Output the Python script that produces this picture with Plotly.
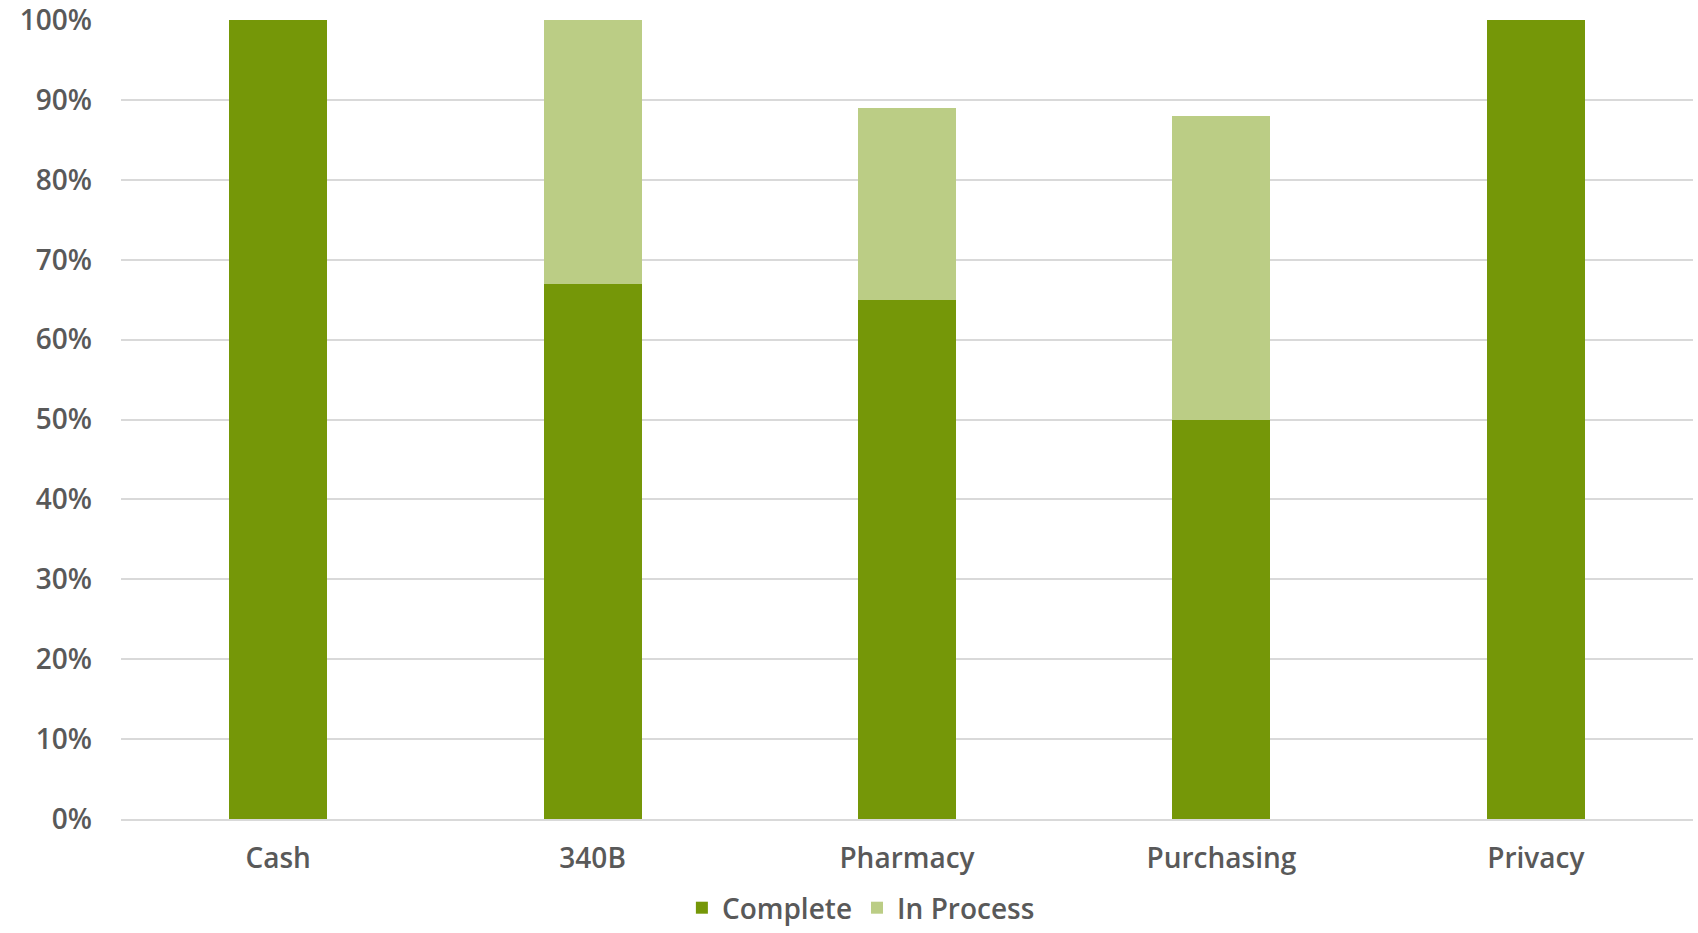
import plotly.graph_objects as go

categories = ["Cash", "340B", "Pharmacy", "Purchasing", "Privacy"]
complete = [1.00, 0.67, 0.65, 0.50, 1.00]
in_process = [0.00, 0.33, 0.24, 0.38, 0.00]
y_ticks = [0, 0.1, 0.2, 0.3, 0.4, 0.5, 0.6, 0.7, 0.8, 0.9, 1.0]

FONT = "Open Sans"
TXT = "#595959"
FS = 28
tf = dict(family=FONT, size=FS, color=TXT, weight=600)

fig = go.Figure()
fig.add_trace(go.Bar(x=categories, y=complete, name="Complete",
                     marker=dict(color="#759708", line=dict(width=0))))
fig.add_trace(go.Bar(x=categories, y=in_process, name="In Process",
                     marker=dict(color="#BBCD85", line=dict(width=0))))

fig.update_layout(
    barmode="stack",
    bargap=0.688,
    width=1698, height=933,
    margin=dict(l=121, r=5, t=20, b=114, pad=0, autoexpand=False),
    plot_bgcolor="white", paper_bgcolor="white",
    font=tf,
    showlegend=True,
    legend=dict(orientation="h", xref="container", yref="container",
                x=0.507, xanchor="center", y=-0.009, yanchor="bottom",
                font=tf, itemsizing="constant", traceorder="normal",
                bgcolor="rgba(0,0,0,0)"),
    xaxis=dict(showgrid=False, showline=True, linecolor="#D9D9D9", linewidth=1.5,
               ticks="", ticklabelstandoff=14, tickfont=tf,
               zeroline=False, automargin=False),
    yaxis=dict(range=[0, 1], tickvals=y_ticks, tickformat=".0%",
               showgrid=True, gridcolor="#D9D9D9", gridwidth=1.5,
               zeroline=False, showline=False, ticks="", automargin=False,
               ticklabeloverflow="allow",
               ticklabelstandoff=28, tickfont=tf),
)

fig.write_html("out.html")
